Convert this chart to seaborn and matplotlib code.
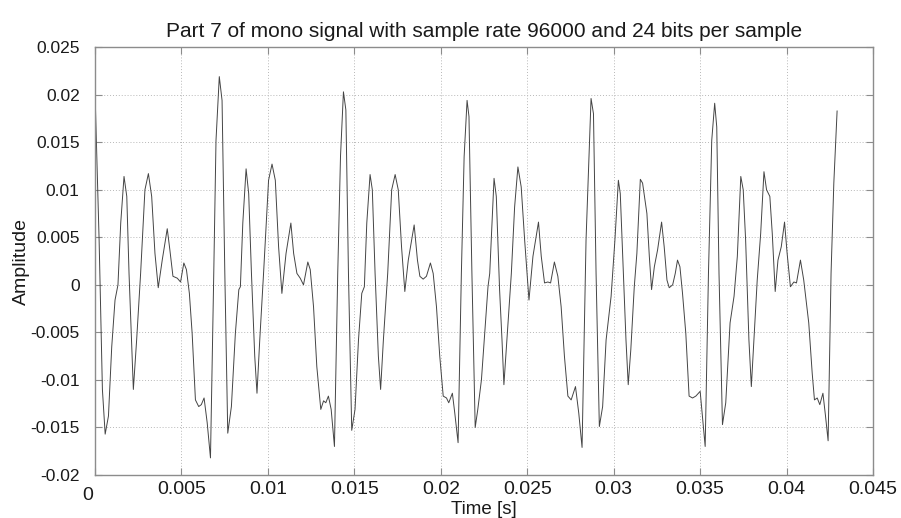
import matplotlib
matplotlib.use("Agg")
import matplotlib.pyplot as plt
import matplotlib.transforms as mtransforms
import numpy as np
import pandas as pd
import seaborn as sns

# Waveform vertices: time in milliseconds, amplitude in thousandths
time_ms = [
    0.00, 0.24, 0.43, 0.59, 0.78, 0.97, 1.16, 1.33, 1.49, 1.68, 1.84, 1.97,
    2.11, 2.22, 2.41, 2.64, 2.89, 3.09, 3.28, 3.47, 3.66, 3.89, 4.18, 4.33,
    4.51, 4.76, 4.95, 5.14, 5.29, 5.46, 5.62, 5.81, 6.00, 6.15, 6.31, 6.49,
    6.68, 6.87, 7.00, 7.19, 7.35,
    7.51, 7.68, 7.89, 8.12, 8.32, 8.41, 8.55, 8.74, 8.89, 9.05, 9.24, 9.37,
    9.53, 9.75, 10.04, 10.24, 10.43, 10.62, 10.81, 11.05, 11.33, 11.49, 11.68,
    11.87, 12.06, 12.31, 12.45, 12.64, 12.83, 13.06, 13.22, 13.35, 13.50,
    13.66, 13.85, 14.04, 14.20, 14.37, 14.51, 14.66, 14.85,
    15.04, 15.24, 15.43, 15.58, 15.72, 15.91, 16.04, 16.20, 16.39, 16.52,
    16.68, 16.93, 17.16, 17.36, 17.54, 17.73, 17.92, 18.12, 18.46, 18.65,
    18.79, 18.98, 19.17, 19.40, 19.56, 19.75, 19.94, 20.14, 20.33, 20.46,
    20.67, 20.81, 21.00, 21.19, 21.35, 21.52, 21.63, 21.80, 21.99, 22.14,
    22.35, 22.54, 22.73, 22.83, 23.08, 23.21, 23.40, 23.54, 23.65, 23.85,
    24.08, 24.27, 24.46, 24.65, 24.85, 25.10, 25.33, 25.65, 25.81, 26.00,
    26.19, 26.35, 26.57, 26.77, 26.96, 27.15, 27.35, 27.54, 27.79, 27.98,
    28.17, 28.40, 28.60, 28.69, 28.83, 28.98, 29.17, 29.36, 29.56, 29.85,
    30.07, 30.27, 30.38, 30.52, 30.71, 30.84, 30.99, 31.19, 31.34, 31.54,
    31.67, 31.77, 31.92, 32.06, 32.19, 32.35, 32.54, 32.77, 32.92, 33.08,
    33.21, 33.41, 33.56, 33.69, 33.83, 33.98, 34.17, 34.36, 34.56, 34.75,
    35.00, 35.13, 35.29, 35.48, 35.67, 35.84, 35.96, 36.09, 36.29, 36.48,
    36.73, 36.96, 37.15, 37.35, 37.49, 37.63, 37.82, 37.96, 38.11, 38.30,
    38.50, 38.69, 38.84, 39.03, 39.17, 39.34, 39.50, 39.69, 39.88, 40.03,
    40.22, 40.42, 40.57, 40.80, 40.99, 41.28, 41.48, 41.61, 41.77, 41.92,
    42.10, 42.25, 42.40, 42.57, 42.73, 42.92,
]
amp_milli = [
    20.5, 4.7, -11.0, -15.7, -13.8, -6.5, -1.6, 0.0, 6.5, 11.4, 9.3, 1.2,
    -5.8, -11.0, -5.8, 1.2, 10.0, 11.7, 9.3, 3.3, -0.3, 2.6, 5.9, 3.7,
    0.9, 0.7, 0.3, 2.3, 1.6, -0.9, -5.1, -12.1, -12.8, -12.6, -11.9, -14.5,
    -18.2, 1.2, 15.2, 21.9, 19.4,
    1.2, -15.6, -12.8, -5.1, -0.5, -0.2, 6.5, 12.2, 9.6, 1.2, -7.5, -11.4,
    -5.8, 1.2, 11.0, 12.7, 11.0, 4.0, -0.9, 3.3, 6.5, 3.3, 1.2,
    0.7, 0.0, 2.4, 1.6, -2.3, -8.6, -13.1, -12.2, -12.4, -11.7,
    -13.1, -17.0, 1.2, 13.5, 20.3, 18.4, 1.2, -15.3,
    -13.1, -5.8, -0.9, -0.2, 6.5, 11.6, 10.0, 1.2, -7.5, -11.0,
    -5.8, 1.2, 10.0, 11.6, 10.0, 4.0, -0.7, 2.6, 6.3, 2.6,
    0.9, 0.6, 0.9, 2.3, 1.2, -2.3, -7.5, -11.7, -11.9, -12.4,
    -11.4, -13.5, -16.6, 1.2, 13.5, 19.4, 17.7, 1.2, -15.0, -13.1,
    -10.0, -5.1, -0.2, 1.2, 11.2, 9.3, -0.5, -5.8, -10.5, -5.1,
    1.2, 8.2, 12.4, 10.3, 4.7, -1.6, 3.0, 6.6, 3.0, 0.2,
    0.3, 0.2, 2.4, 0.9, -2.3, -7.5, -11.7, -12.1, -10.7, -13.5,
    -17.1, 4.7, 15.2, 19.6, 18.0, 1.2, -14.9, -12.8, -5.8, -1.2,
    4.7, 11.0, 9.6, 3.0, -5.8, -10.5, -6.8, -0.2, 3.3, 11.1,
    10.7, 9.4, 7.5, 3.0, -0.5, 1.9, 3.7, 6.6, 4.0, 0.5,
    -0.3, 0.0, 1.2, 2.6, 1.9, -0.9, -5.1, -11.7, -11.9, -11.7,
    -11.2, -13.8, -17.0, 1.2, 15.2, 19.1, 16.6, 1.2, -14.7, -12.4,
    -4.0, -1.2, 3.0, 11.4, 10.0, 4.7, -5.8, -10.7, -5.8, 0.5,
    5.4, 11.9, 10.0, 9.3, 5.4, -0.7, 2.6, 4.0, 6.6, 3.3,
    -0.2, 0.3, 0.2, 2.6, 0.5, -4.0, -9.3, -12.1, -11.9, -12.6,
    -11.4, -13.8, -16.4, 1.2, 10.7, 18.3,
]

x_ticks = [0, 0.005, 0.01, 0.015, 0.02, 0.025, 0.03, 0.035, 0.04, 0.045]
x_tick_labels = ["0", "0.005", "0.01", "0.015", "0.02", "0.025", "0.03", "0.035", "0.04", "0.045"]
y_ticks = [-0.02, -0.015, -0.01, -0.005, 0, 0.005, 0.01, 0.015, 0.02, 0.025]
y_tick_labels = ["-0.02", "-0.015", "-0.01", "-0.005", "0", "0.005", "0.01", "0.015", "0.02", "0.025"]

df = pd.DataFrame({
    "Time [s]": np.array(time_ms) / 1000.0,
    "Amplitude": np.array(amp_milli) / 1000.0,
})

sns.set_theme(style="white")
plt.rcParams["font.family"] = ["Liberation Sans", "DejaVu Sans"]

fig = plt.figure(figsize=(9.01, 5.18), dpi=100)
ax = fig.add_axes([0.1054, 0.083, 0.8636, 0.826])

sns.lineplot(data=df, x="Time [s]", y="Amplitude", ax=ax, sort=False,
             estimator=None, color="#444444", linewidth=0.7)

ax.set_xlim(0, 0.045)
ax.set_ylim(-0.02, 0.025)
ax.set_xticks(x_ticks)
ax.set_xticklabels(x_tick_labels)
ax.set_yticks(y_ticks)
ax.set_yticklabels(y_tick_labels)

ax.grid(True, linestyle=(0, (1, 2)), color="#b8b8b8", linewidth=0.7)
for side in ["left", "right", "top", "bottom"]:
    ax.spines[side].set_visible(True)
    ax.spines[side].set_color("#8c8c8c")
    ax.spines[side].set_linewidth(1.0)

ax.tick_params(axis="both", which="major", direction="in", length=5,
               width=0.8, color="#8c8c8c", labelcolor="#1a1a1a",
               top=True, right=True, bottom=True, left=True)
ax.tick_params(axis="y", pad=11, labelsize=12.5)
ax.tick_params(axis="x", pad=4, labelsize=14)

# The origin label sits just below and left of the corner, as in MATLAB plots
first = ax.get_xticklabels()[0]
first.set_transform(first.get_transform() +
                    mtransforms.ScaledTranslation(-7 / 100, -6 / 100, fig.dpi_scale_trans))

ax.set_xlabel("Time [s]", fontsize=13.5, color="#1a1a1a", labelpad=-2)
ax.set_ylabel("Amplitude", fontsize=14, color="#1a1a1a", labelpad=0)
ax.set_title("Part 7 of mono signal with sample rate 96000 and 24 bits per sample",
             fontsize=15, color="#1a1a1a", pad=7)

fig.savefig("out.png", dpi=100, facecolor="white")
